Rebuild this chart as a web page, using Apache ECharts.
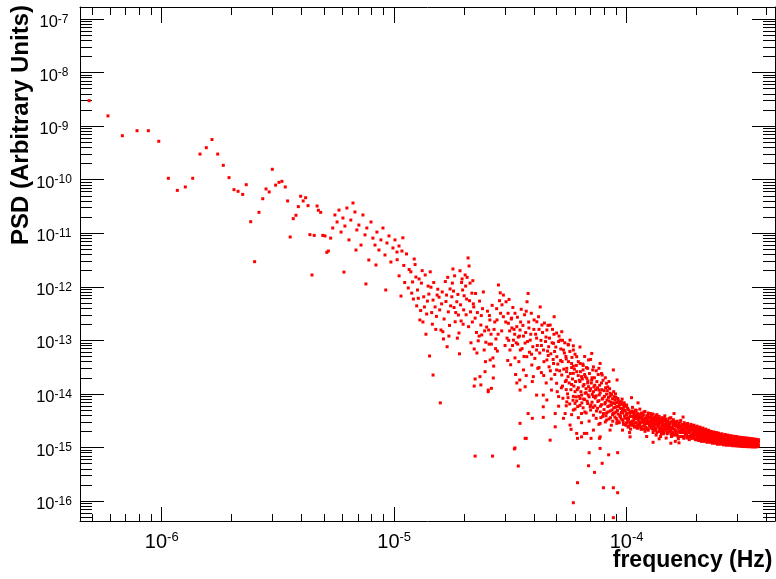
<!DOCTYPE html>
<html><head><meta charset="utf-8">
<script src="https://cdn.jsdelivr.net/npm/echarts@6/dist/echarts.min.js"></script>
<style>html,body{margin:0;padding:0;background:#fff}#c{width:776px;height:579px}</style>
</head><body><div id="c"></div><script>
// ---- axis ranges and tick labels ----
const X_MIN = 4.45e-7, X_MAX = 4.35e-4;
const Y_MIN = 4.24e-17, Y_MAX = 1.67e-7;
const xMajor = [1e-6, 1e-5, 1e-4];
const yMajor = [1e-16, 1e-15, 1e-14, 1e-13, 1e-12, 1e-11, 1e-10, 1e-9, 1e-8, 1e-7];
const xTitle = 'frequency (Hz)';
const yTitle = 'PSD (Arbitrary Units)';

// ---- data: [frequency (Hz), PSD] ----
const lowFreqPoints = [
[4.87e-7,2.98e-9],[5.87e-7,1.55e-9],[6.77e-7,6.6e-10],[7.83e-7,8.2e-10],[8.76e-7,8.2e-10],[9.71e-7,5.2e-10],
[1.068e-6,1.06e-10],[1.167e-6,6.3e-11],[1.263e-6,7.3e-11],[1.359e-6,1.06e-10],[1.461e-6,3.0e-10],[1.555e-6,3.95e-10],
[1.645e-6,5.6e-10],[1.741e-6,3.0e-10],[1.84e-6,1.85e-10],[1.948e-6,1.09e-10],[2.046e-6,6.5e-11],[2.13e-6,6.05e-11],
[2.23e-6,5.3e-11],[2.31e-6,8.05e-11],[2.414e-6,1.64e-11],[2.51e-6,2.94e-12],[2.62e-6,2.45e-11],[2.72e-6,4.4e-11],
[2.81e-6,6.7e-11],[2.90e-6,5.9e-11],[2.99e-6,1.56e-10],[3.09e-6,7.9e-11],[3.195e-6,8.9e-11],[3.29e-6,9.3e-11],
[3.40e-6,7.3e-11],[3.48e-6,4.0e-11],[3.57e-6,8.5e-12],[3.68e-6,1.87e-11],[3.78e-6,2.16e-11],[3.87e-6,3.13e-11],
[3.96e-6,4.9e-11],[4.06e-6,4.0e-11],[4.16e-6,4.6e-11],[4.26e-6,3.27e-11],[4.34e-6,9.4e-12],[4.43e-6,1.66e-12],
[4.53e-6,9.1e-12],[4.66e-6,3.22e-11],[4.72e-6,2.68e-11],[4.83e-6,2.45e-11],[4.93e-6,9.1e-12],[5.04e-6,8.9e-12],
[5.13e-6,4.4e-12],[5.21e-6,4.65e-12]
];
const decadeFiveToTenPoints = [
[5.33e-6,8.1e-12],[5.44e-6,1.25e-11],[5.56e-6,2.19e-11],[5.68e-6,1.62e-11],[5.79e-6,2.7e-11],[5.91e-6,1.05e-11],
[6.02e-6,1.92e-11],[6.14e-6,1.36e-11],[6.26e-6,2.95e-11],[6.39e-6,7.5e-12],[6.51e-6,1.76e-11],[6.65e-6,3.66e-11],
[6.78e-6,2.49e-11],[6.91e-6,1.15e-11],[7.05e-6,1.42e-11],[7.2e-6,6.0e-12],[7.34e-6,2.19e-11],[7.49e-6,9.3e-12],
[7.63e-6,1.25e-11],[7.78e-6,3.16e-12],[7.95e-6,1.62e-11],[8.1e-6,8.1e-12],[8.27e-6,6.0e-12],[8.43e-6,1.05e-11],
[8.6e-6,4.85e-12],[8.77e-6,7.5e-12],[8.95e-6,1.25e-11],[9.13e-6,3.92e-12],[9.31e-6,6.56e-12],[9.5e-6,8.9e-12],
[9.68e-6,2.9e-12],[9.88e-6,5.3e-12],[1.008e-5,7.5e-12],[1.028e-5,4.45e-12],[1.049e-5,5.77e-12],[6.08e-6,1.88e-12],
[7.56e-6,1.13e-12],[9.2e-6,8.7e-13],[6.85e-6,4.85e-12],[8.35e-6,2.55e-12]
];
const midFreqPoints = [
[1.08e-5,4.65e-12],[1.22e-5,3.3e-12],[1.24e-5,1.52e-12],[1.36e-5,1.66e-12],[1.20e-5,1.23e-12],[1.31e-5,1.17e-12],
[1.07e-5,6.7e-13],[1.40e-5,1.03e-12],[1.26e-5,8.7e-13],[1.41e-5,7.3e-13],[1.21e-5,5.9e-13],[1.47e-5,5.65e-13],
[1.53e-5,7.0e-13],[1.56e-5,6.4e-13],[1.50e-5,4.2e-13],[1.35e-5,4.2e-13],[1.29e-5,2.4e-13],[1.33e-5,2.2e-13],
[1.46e-5,2.0e-13],[1.59e-5,1.56e-13],[1.62e-5,1.45e-13],[1.63e-5,1.06e-13],[1.69e-5,7.6e-14],[1.42e-5,5.1e-14],
[1.47e-5,2.25e-14],[1.58e-5,6.8e-15],
[1.79e-5,2.15e-12],[1.92e-5,1.99e-12],[2.08e-5,3.45e-12],[2.10e-5,2.44e-12],[2.02e-5,1.66e-12],[1.96e-5,1.4e-12],
[1.78e-5,1.17e-12],[1.74e-5,9.1e-13],[1.68e-5,7.0e-13],[1.77e-5,6.5e-13],[1.86e-5,5.25e-13],[1.97e-5,8.7e-13],
[2.03e-5,1.03e-12],[2.12e-5,1.17e-12],[2.16e-5,7.6e-13],[1.89e-5,2.97e-13],[1.83e-5,2.22e-13],[1.90e-5,1.37e-13],
[1.71e-5,3.4e-13],[1.99e-5,3.7e-13],[2.13e-5,3.4e-13],[2.23e-5,2.6e-13],[2.36e-5,1.93e-13],[2.50e-5,1.77e-13],
[2.55e-5,1.56e-13],[2.38e-5,1.26e-13],[2.30e-5,9.8e-14],[2.21e-5,6.9e-14],[2.27e-5,5.8e-14],[2.44e-5,6.6e-14],
[2.62e-5,8.5e-14],[2.74e-5,1.06e-13],[2.66e-5,4.7e-14],[2.59e-5,4.3e-14],[2.46e-5,2.6e-14],[2.34e-5,2.1e-14],
[2.23e-5,1.9e-14],[2.36e-5,1.47e-14],[2.67e-5,1.98e-14],[2.54e-5,1.18e-14],
[1.1e-5,2.5e-12],[1.15e-5,9.5e-13],[1.18e-5,1.9e-12],[1.27e-5,6.1e-13],[1.38e-5,3.1e-13],[1.44e-5,9.8e-13],
[1.52e-5,2.8e-13],[1.6e-5,4.8e-13],[1.66e-5,1.25e-12],[1.73e-5,1.9e-13],[1.81e-5,4.1e-13],[1.94e-5,2.3e-13],
[2.05e-5,5.9e-13],[2.19e-5,4.8e-13],[2.26e-5,1.4e-13],[2.4e-5,3.9e-13],[2.48e-5,9.2e-14],[2.57e-5,2.9e-13],
[2.69e-5,1.6e-13],[2.78e-5,6.3e-14],
[1.03e-5,3.2e-12],[1.05e-5,1.6e-12],[1.09e-5,8.2e-12],[1.11e-5,1.2e-12],[1.13e-5,4.1e-12],[1.16e-5,2.1e-12],
[1.19e-5,7.6e-13],[1.23e-5,2.6e-12],[1.25e-5,4.4e-13],[1.28e-5,1.4e-12],[1.30e-5,3.6e-13],[1.32e-5,2.0e-12],
[1.34e-5,6.5e-13],[1.37e-5,1.3e-13],[1.39e-5,5.4e-13],[1.43e-5,1.9e-12],[1.45e-5,3.3e-13],[1.48e-5,1.2e-12],
[1.51e-5,1.6e-13],[1.54e-5,9.0e-13],[1.57e-5,3.7e-13],[1.61e-5,8.0e-13],[1.64e-5,2.5e-13],[1.67e-5,5.3e-13],
[1.70e-5,1.5e-12],[1.72e-5,1.2e-13],[1.75e-5,4.4e-13],[1.80e-5,8.3e-13],[1.82e-5,1.6e-12],[1.84e-5,3.3e-13],
[1.87e-5,1.1e-13],[1.88e-5,7.2e-13],[1.91e-5,5.6e-14],[1.93e-5,4.6e-13],[1.95e-5,1.2e-12],[1.98e-5,2.0e-13],
[2.00e-5,6.8e-13],[2.04e-5,3.0e-13],[2.06e-5,1.5e-12],[2.09e-5,1.8e-13],[2.11e-5,5.5e-13],[2.14e-5,9.0e-14],
[2.17e-5,2.2e-13],[2.18e-5,1.3e-12],[2.20e-5,4.2e-13],[2.24e-5,7.5e-13],[2.28e-5,3.3e-13],[2.32e-5,1.2e-13],
[2.33e-5,5.4e-13],[2.37e-5,2.9e-13],[2.42e-5,8.0e-13],[2.45e-5,1.5e-13],[2.47e-5,4.0e-14],[2.52e-5,3.5e-13],
[2.56e-5,8.5e-14],[2.58e-5,2.4e-13],[2.61e-5,1.3e-13],[2.64e-5,4.5e-13],[2.68e-5,3.3e-14],[2.71e-5,2.2e-13],
[2.73e-5,7.0e-14],[2.76e-5,3.9e-13],[2.80e-5,1.3e-13],[2.84e-5,5.5e-13]
];
const upperMidPoints = [
[2.81e-5,1.08e-12],[2.86e-5,7.7e-13],[2.95e-5,7.0e-13],[3.03e-5,5.25e-13],[2.91e-5,4.6e-13],[3.09e-5,3.2e-13],
[2.87e-5,3.2e-13],[3.31e-5,3.2e-13],[2.95e-5,2.76e-13],[2.77e-5,2.4e-13],[3.10e-5,2.08e-13],[3.21e-5,1.7e-13],
[3.37e-5,1.8e-13],[3.48e-5,1.56e-13],[3.42e-5,1.15e-13],[3.26e-5,1.01e-13],[3.11e-5,1.0e-13],[3.15e-5,6.6e-14],
[3.31e-5,4.7e-14],[3.49e-5,6.6e-14],[3.66e-5,8.9e-14],[3.85e-5,1.01e-13],[3.95e-5,7.6e-14],[4.10e-5,6.6e-14],
[3.72e-5,4.95e-14],[3.91e-5,3.46e-14],[3.60e-5,2.8e-14],[3.47e-5,1.82e-14],[3.66e-5,1.36e-14],[3.97e-5,2.1e-14],
[4.10e-5,9.5e-15],[4.38e-5,9.5e-15],[3.77e-5,7.5e-13],[3.73e-5,5.25e-13],[4.25e-5,4.2e-13],[4.18e-5,2.76e-13],
[4.11e-5,2.22e-13],[4.32e-5,1.93e-13],[4.54e-5,1.56e-13],[4.69e-5,1.93e-13],[4.88e-5,2.76e-13],[5.0e-5,1.37e-13],
[5.26e-5,1.45e-13],[5.18e-5,1.01e-13],[4.85e-5,8.8e-14],[4.62e-5,7.6e-14],[4.39e-5,6.6e-14],[4.54e-5,4.3e-14],
[4.85e-5,3.7e-14],[5.01e-5,4.95e-14],[5.35e-5,6.6e-14],[5.62e-5,8.2e-14],[5.71e-5,1.01e-13],[5.9e-5,6.6e-14],
[6.1e-5,4.95e-14],[5.8e-5,3.7e-14],[5.53e-5,3.0e-14],[5.26e-5,2.25e-14],[5.0e-5,1.58e-14],[4.75e-5,1.18e-14],
[4.54e-5,7.7e-15],[5.9e-5,2.42e-14],[6.31e-5,3.7e-14],[6.5e-5,2.8e-14],[6.4e-5,2.1e-14],[6.74e-5,1.96e-14],
[7.08e-5,1.82e-14],[6.86e-5,1.36e-14],[6.63e-5,1.03e-14],[6.31e-5,8.2e-15],[6.0e-5,6.65e-15],[5.9e-5,5.0e-15],
[6.4e-5,4.3e-15],[6.97e-5,5.75e-15],[7.2e-5,8.9e-15],[7.6e-5,1.18e-14],[7.85e-5,2.25e-14],[7.69e-5,3.7e-14],
[8.2e-5,1.58e-14],[8.49e-5,1.03e-14],[8.92e-5,7.7e-15],[9.07e-5,5.75e-15],[8.77e-5,4.3e-15],[8.2e-5,3.25e-15],
[7.69e-5,2.82e-15],[7.2e-5,2.11e-15],[6.74e-5,1.83e-15],[6.4e-5,1.58e-15],[7.7e-5,1.58e-15],[8.49e-5,2.11e-15],
[9.38e-5,3.74e-15],[1.0e-4,4.3e-15],[1.07e-4,3.74e-15],[1.143e-4,3.5e-15],[1.23e-4,3.0e-15],[9.1e-5,1.82e-14],
[8.77e-5,2.8e-14],[7.08e-5,5.7e-14],[6.86e-5,4.3e-14],[5.1e-5,8.9e-15],[4.38e-5,5.75e-15],[4.93e-5,2.43e-15],
[4.69e-5,1.37e-15],[3.77e-5,4.3e-15],[3.48e-5,2.82e-15],[3.66e-5,1.48e-15],[3.31e-5,9.8e-16],[4.93e-5,4.3e-15],
[5.53e-5,7.1e-15],[5.35e-5,3.5e-15],[5.71e-5,2.62e-15],[6.1e-5,1.83e-15],[7.69e-5,9.6e-16],[1.035e-4,1.58e-15],
[9.6e-5,2.11e-15],[9.07e-5,2.82e-15],
[2.9e-5,1.5e-13],[3.0e-5,8e-14],[3.2e-5,2.6e-13],[3.3e-5,1.3e-13],[3.4e-5,8.5e-14],[3.5e-5,2.2e-13],
[3.6e-5,1.2e-13],[3.7e-5,3.5e-13],[3.8e-5,1.7e-13],[3.9e-5,5.5e-14],[4.0e-5,2.4e-13],[4.1e-5,1.1e-13],
[4.2e-5,3.1e-14],[4.3e-5,8e-14],[4.4e-5,2.2e-14],[4.5e-5,1.15e-13],[4.6e-5,5.2e-14],[4.7e-5,2.7e-14],
[4.8e-5,1.6e-13],[4.9e-5,6.2e-14],[5.0e-5,2.8e-14],[5.1e-5,9.5e-14],[5.2e-5,4.2e-14],[5.3e-5,1.4e-14],
[5.4e-5,5.8e-14],[5.5e-5,1.8e-14],
[5.5e-5,4.5e-14],[5.7e-5,6.2e-14],[5.8e-5,3.1e-14],[6.0e-5,5.5e-14],[6.2e-5,4.0e-14],[6.3e-5,7.5e-14],
[6.5e-5,3.4e-14],[6.6e-5,5.0e-14],[6.8e-5,3.0e-14],[7.0e-5,4.4e-14],[7.2e-5,3.2e-14],[7.4e-5,2.7e-14],
[7.6e-5,3.0e-14],[7.8e-5,2.4e-14],[8.1e-5,2.0e-14],[8.4e-5,1.7e-14],[5.3e-5,1.0e-13],[5.6e-5,8.4e-14],[5.9e-5,7.9e-14],
[3.02e-5,2.2e-13],[3.06e-5,1.1e-13],[3.08e-5,4.2e-14],[3.12e-5,5.8e-13],[3.14e-5,1.5e-13],[3.17e-5,3.5e-14],
[3.19e-5,2.5e-13],[3.23e-5,8.0e-14],[3.24e-5,4.1e-13],[3.28e-5,1.6e-13],[3.33e-5,2.3e-14],[3.35e-5,9.0e-14],
[3.39e-5,2.7e-13],[3.44e-5,4.0e-14],[3.46e-5,1.2e-13],[3.52e-5,3.8e-13],[3.55e-5,7.0e-14],[3.58e-5,1.9e-13],
[3.62e-5,5.0e-14],[3.64e-5,3.0e-13],[3.68e-5,1.4e-13],[3.70e-5,2.2e-14],[3.75e-5,9.5e-14],[3.79e-5,2.2e-13],
[3.82e-5,6.0e-14],[3.87e-5,1.3e-13],[3.89e-5,3.2e-13],[3.93e-5,1.7e-14],[3.99e-5,1.6e-13],[4.03e-5,4.6e-14],
[4.06e-5,1.3e-13],[4.13e-5,8.0e-14],[4.15e-5,3.0e-14],[4.20e-5,1.6e-13],[4.23e-5,5.8e-14],[4.28e-5,1.0e-13],
[4.30e-5,2.5e-14],[4.35e-5,1.4e-13],[4.41e-5,4.0e-14],[4.43e-5,2.1e-13],[4.48e-5,9.5e-14],[4.51e-5,1.6e-14],
[4.57e-5,6.3e-14],[4.59e-5,1.9e-13],[4.64e-5,3.2e-14],[4.66e-5,1.1e-13],[4.72e-5,5.6e-14],[4.74e-5,1.9e-14],
[4.78e-5,9.0e-14],[4.83e-5,4.4e-14],[4.87e-5,1.3e-13],[4.91e-5,2.3e-14],[4.96e-5,7.5e-14],[5.03e-5,1.1e-14],
[5.06e-5,3.6e-14],[5.12e-5,1.2e-13],[5.15e-5,2.7e-14],[5.21e-5,6.9e-14],[5.24e-5,1.3e-14],[5.28e-5,4.0e-14],
[5.32e-5,8.3e-15],[5.37e-5,2.9e-14],[5.42e-5,9.0e-14],[5.45e-5,1.7e-14],[5.48e-5,5.0e-14]
];
const clusterExtraPoints = [
[5.52e-5,2.6e-14],[5.57e-5,1.0e-14],[5.62e-5,4.0e-14],[5.66e-5,1.6e-14],[5.69e-5,6.5e-15],[5.73e-5,2.4e-14],
[5.76e-5,1.2e-14],[5.82e-5,4.8e-14],[5.85e-5,1.9e-14],[5.88e-5,7.6e-15],[5.93e-5,1.4e-14],[5.96e-5,2.9e-14],
[6.03e-5,1.7e-14],[6.06e-5,8.8e-15],[6.08e-5,3.4e-14],[6.13e-5,1.2e-14],[6.16e-5,5.8e-15],[6.19e-5,2.2e-14],
[6.23e-5,9.0e-15],[6.26e-5,1.8e-14],[6.33e-5,2.6e-14],[6.36e-5,1.1e-14],[6.42e-5,6.8e-15],[6.45e-5,1.9e-14],
[6.48e-5,3.6e-14],[6.53e-5,8.0e-15],[6.56e-5,1.5e-14],[6.61e-5,4.6e-15],[6.64e-5,2.1e-14],[6.69e-5,1.25e-14],
[6.72e-5,3.1e-14],[6.77e-5,7.3e-15],[6.81e-5,1.75e-14],[6.84e-5,9.5e-15],[6.92e-5,2.4e-14],[6.95e-5,1.15e-14],
[7.02e-5,6.2e-15],[7.05e-5,1.6e-14],[7.12e-5,9.8e-15],[7.15e-5,2.8e-14],[7.18e-5,5.6e-15],[7.23e-5,1.35e-14],
[7.27e-5,2.0e-14],[7.33e-5,8.4e-15],[7.36e-5,1.2e-14],[7.42e-5,4.8e-15],[7.45e-5,1.7e-14],[7.52e-5,7.2e-15],
[7.55e-5,2.3e-14],[7.63e-5,9.6e-15],[7.66e-5,1.45e-14],[7.72e-5,5.9e-15],[7.75e-5,3.6e-15],[7.82e-5,1.2e-14],
[7.86e-5,8.0e-15],[7.92e-5,1.8e-14],[7.95e-5,4.3e-15],[8.03e-5,9.0e-15],[8.06e-5,6.5e-15],[8.12e-5,1.3e-14],
[8.15e-5,3.9e-15],[8.23e-5,7.7e-15],[8.26e-5,1.15e-14],[8.32e-5,4.6e-15],[8.36e-5,8.6e-15],[8.42e-5,6.0e-15],
[8.45e-5,1.25e-14],[8.52e-5,3.6e-15],[8.55e-5,7.0e-15],[8.62e-5,9.8e-15],[8.66e-5,5.0e-15],[8.72e-5,3.1e-15],
[8.76e-5,6.8e-15],[8.83e-5,8.9e-15],[8.86e-5,4.4e-15],[8.93e-5,5.6e-15],[8.96e-5,1.0e-14],[9.03e-5,3.5e-15],
[9.06e-5,6.9e-15],[9.13e-5,4.9e-15],[9.17e-5,8.2e-15],[9.23e-5,3.0e-15],[9.27e-5,5.8e-15],[9.33e-5,7.1e-15],
[9.36e-5,4.0e-15],[9.43e-5,6.4e-15],[9.47e-5,3.4e-15],[9.53e-5,5.3e-15],[9.57e-5,8.0e-15],[9.63e-5,4.4e-15],
[9.67e-5,3.0e-15],[9.73e-5,5.6e-15],[9.77e-5,6.8e-15],[9.83e-5,3.7e-15],[9.87e-5,4.9e-15],[9.93e-5,2.6e-15],
[9.97e-5,6.0e-15]
];
const lowOutlierPoints = [
[2.23e-5,6.9e-16],[2.65e-5,6.9e-16],[3.42e-5,4.5e-16],[3.29e-5,9.4e-16],[6.15e-5,2.2e-16],[5.9e-5,9.3e-17],
[7.95e-5,1.77e-16],[8.77e-5,1.77e-16],[9.15e-5,1.43e-16],[8.77e-5,4.9e-17],[7.28e-5,3.43e-16],[7.85e-5,5.06e-16],
[6.86e-5,4.56e-16],[6.9e-5,7.97e-16],[8.37e-5,7.3e-16],[9.15e-5,8.0e-16],[3.7e-5,1.48e-15],[3.93e-5,3.5e-15],
[4.38e-5,3.65e-15],[5.77e-5,2.18e-15],[6.15e-5,1.48e-15],[7.03e-5,1.48e-15],[7.64e-5,1.48e-15],[6.58e-5,1.83e-15],
[5.44e-5,4.3e-15],[5.1e-5,5.9e-15],[3.48e-5,1.18e-14],[2.54e-5,1.1e-14],[2.62e-5,1.27e-14],[2.21e-5,1.4e-14],
[3.37e-5,1.6e-14],
[1.05e-4,8.5e-15],[1.12e-4,6.8e-15],[1.3e-4,1.25e-15],[1.38e-4,1.45e-15],[1.55e-4,1.2e-15],[1.6e-4,4.3e-15],
[1.75e-4,3.7e-15],[1.22e-4,1.6e-15],[1.68e-4,1.22e-15],[1.03e-4,1.9e-15]
];
const clusterFreq = [5.5e-5,5.6e-5,5.8e-5,5.9e-5,6.0e-5,6.1e-5,6.2e-5,6.3e-5,6.4e-5,6.5e-5,6.6e-5,6.7e-5,6.8e-5,6.9e-5,
7.0e-5,7.1e-5,7.2e-5,7.3e-5,7.4e-5,7.5e-5,7.6e-5,7.7e-5,7.8e-5,7.9e-5,8.0e-5,8.1e-5,8.2e-5,8.3e-5,8.4e-5,8.5e-5,
8.6e-5,8.7e-5,8.8e-5,8.9e-5,9.0e-5,9.1e-5,9.2e-5,9.3e-5,9.4e-5,9.5e-5,9.6e-5,9.7e-5,9.8e-5,9.9e-5];
const clusterPsdA = [1.2e-14,2.1e-14,1.5e-14,9e-15,1.1e-14,2.6e-14,1.3e-14,1.7e-14,9.5e-15,1.4e-14,2.3e-14,1.05e-14,
1.6e-14,8.8e-15,1.25e-14,2.0e-14,1.1e-14,1.45e-14,9.2e-15,1.3e-14,7.5e-15,1.05e-14,1.6e-14,8.3e-15,1.15e-14,6.9e-15,
9.9e-15,1.35e-14,7.4e-15,9.1e-15,6.2e-15,8.1e-15,1.1e-14,6.6e-15,8.6e-15,5.8e-15,7.6e-15,6.4e-15,5.4e-15,7.1e-15,
5.1e-15,6.3e-15,4.8e-15,5.9e-15];
const clusterPsdB = [6e-15,8.5e-15,4.1e-15,3.3e-14,5.2e-15,7.4e-15,3.6e-15,6.1e-15,2.9e-15,5.5e-15,7.9e-15,4.4e-15,
6.6e-15,3.1e-15,5e-15,7e-15,4e-15,6e-15,3.5e-15,5.4e-15,2.7e-15,4.6e-15,6.3e-15,3.8e-15,5.1e-15,3.0e-15,4.4e-15,
5.8e-15,3.4e-15,4.8e-15,2.6e-15,4.1e-15,5.5e-15,3.7e-15,4.6e-15,3.2e-15,4.2e-15,2.9e-15,3.8e-15,4.5e-15,3.3e-15,
2.7e-15,3.9e-15,3.5e-15];
const tailFreq = [1.00e-4,1.02e-4,1.04e-4,1.06e-4,1.08e-4,1.10e-4,1.12e-4,1.14e-4,1.16e-4,1.18e-4,1.20e-4,1.22e-4,
1.24e-4,1.26e-4,1.28e-4,1.30e-4,1.32e-4,1.34e-4,1.36e-4,1.38e-4,1.40e-4,1.42e-4,1.44e-4,1.46e-4,1.48e-4,1.50e-4,
1.53e-4,1.56e-4,1.59e-4,1.62e-4,1.65e-4,1.68e-4,1.71e-4,1.74e-4,1.77e-4,1.80e-4,1.83e-4,1.86e-4,1.89e-4,1.92e-4,
1.95e-4,1.98e-4,2.01e-4,2.04e-4,2.07e-4,2.10e-4,2.13e-4,2.16e-4,2.19e-4,2.22e-4,2.25e-4,2.28e-4,2.31e-4,2.34e-4,
2.37e-4,2.40e-4,2.43e-4,2.46e-4,2.49e-4,2.53e-4,2.57e-4,2.61e-4,2.65e-4,2.69e-4,2.73e-4,2.77e-4,2.81e-4,2.85e-4,
2.89e-4,2.93e-4,2.97e-4,3.01e-4,3.05e-4,3.09e-4,3.13e-4,3.17e-4,3.21e-4,3.25e-4,3.29e-4,3.33e-4,3.37e-4,3.41e-4,
3.45e-4,3.49e-4,3.53e-4,3.57e-4,3.61e-4,3.65e-4,3.69e-4];
const tailPsdA = [6.2e-15,5.0e-15,4.6e-15,5.6e-15,4.3e-15,4.9e-15,4.0e-15,5.2e-15,3.7e-15,4.1e-15,3.5e-15,3.9e-15,
4.4e-15,3.6e-15,4.0e-15,3.3e-15,3.7e-15,3.1e-15,3.5e-15,3.0e-15,3.3e-15,2.8e-15,3.2e-15,3.9e-15,2.9e-15,3.1e-15,
2.7e-15,3.0e-15,2.6e-15,2.9e-15,2.5e-15,2.8e-15,2.4e-15,2.7e-15,2.3e-15,2.6e-15,2.2e-15,2.5e-15,2.1e-15,2.4e-15,
2.0e-15,2.3e-15,2.0e-15,2.2e-15,1.9e-15,2.1e-15,1.8e-15,2.0e-15,1.75e-15,1.95e-15,1.7e-15,1.9e-15,1.65e-15,1.85e-15,
1.6e-15,1.8e-15,1.6e-15,1.75e-15,1.55e-15,1.7e-15,1.5e-15,1.65e-15,1.5e-15,1.62e-15,1.45e-15,1.6e-15,1.42e-15,1.56e-15,
1.4e-15,1.53e-15,1.38e-15,1.5e-15,1.36e-15,1.48e-15,1.34e-15,1.46e-15,1.33e-15,1.44e-15,1.31e-15,1.42e-15,1.3e-15,1.4e-15,
1.29e-15,1.38e-15,1.28e-15,1.36e-15,1.27e-15,1.34e-15,1.26e-15];
const tailPsdB = [4.1e-15,3.4e-15,3.8e-15,3.1e-15,3.6e-15,2.9e-15,3.3e-15,3.0e-15,4.4e-15,3.2e-15,4.7e-15,2.8e-15,
3.1e-15,2.6e-15,2.4e-15,4.2e-15,2.7e-15,3.9e-15,2.5e-15,3.8e-15,2.3e-15,3.6e-15,2.5e-15,2.7e-15,3.4e-15,2.4e-15,
3.5e-15,2.2e-15,3.3e-15,2.1e-15,3.1e-15,2.0e-15,3.2e-15,1.9e-15,2.9e-15,2.0e-15,2.8e-15,1.9e-15,2.7e-15,1.8e-15,
2.6e-15,1.7e-15,2.5e-15,1.7e-15,2.4e-15,1.6e-15,2.3e-15,1.6e-15,2.2e-15,1.55e-15,2.1e-15,1.5e-15,2.0e-15,1.45e-15,
1.95e-15,1.45e-15,1.9e-15,1.4e-15,1.85e-15,1.4e-15,1.8e-15,1.35e-15,1.75e-15,1.33e-15,1.7e-15,1.3e-15,1.66e-15,1.28e-15,
1.62e-15,1.26e-15,1.6e-15,1.25e-15,1.56e-15,1.23e-15,1.54e-15,1.22e-15,1.52e-15,1.2e-15,1.5e-15,1.19e-15,1.48e-15,1.18e-15,
1.46e-15,1.17e-15,1.44e-15,1.16e-15,1.42e-15,1.15e-15,1.4e-15];
const tailPsdC = [2.9e-15,2.5e-15,2.2e-15,2.7e-15,2.4e-15,3.9e-15,2.3e-15,2.6e-15,2.2e-15,2.5e-15,2.0e-15,3.3e-15,
2.1e-15,3.0e-15,3.4e-15,1.9e-15,2.2e-15,1.7e-15,2.9e-15,2.0e-15,1.6e-15,2.1e-15,1.8e-15,2.2e-15,1.5e-15,1.9e-15,
2.0e-15,1.6e-15,1.9e-15,1.3e-15,1.7e-15,2.3e-15,1.6e-15,2.2e-15,1.5e-15,1.7e-15,1.5e-15,1.4e-15,1.7e-15,1.5e-15,
1.6e-15,1.4e-15,1.5e-15,1.35e-15,1.5e-15,1.3e-15,1.45e-15,1.3e-15,1.4e-15,1.25e-15,1.4e-15,1.25e-15,1.35e-15,1.2e-15,
1.3e-15,1.2e-15,1.3e-15,1.15e-15,1.3e-15,1.15e-15,1.25e-15,1.12e-15,1.22e-15,1.1e-15,1.2e-15,1.1e-15,1.18e-15,1.08e-15,
1.17e-15,1.07e-15,1.16e-15,1.06e-15,1.14e-15,1.05e-15,1.13e-15,1.04e-15,1.12e-15,1.04e-15,1.11e-15,1.03e-15,1.1e-15,1.03e-15,
1.09e-15,1.02e-15,1.08e-15,1.02e-15,1.08e-15,1.03e-15,1.1e-15];
const tail2Freq = [1.01e-4,1.03e-4,1.05e-4,1.07e-4,1.09e-4,1.11e-4,1.13e-4,1.15e-4,1.17e-4,1.19e-4,1.21e-4,1.23e-4,
1.25e-4,1.27e-4,1.29e-4,1.31e-4,1.33e-4,1.35e-4,1.37e-4,1.39e-4,1.41e-4,1.43e-4,1.45e-4,1.47e-4,1.49e-4,
1.52e-4,1.55e-4,1.58e-4,1.61e-4,1.64e-4,1.67e-4,1.70e-4,1.73e-4,1.76e-4,1.79e-4,1.82e-4,1.85e-4,1.88e-4,1.91e-4,
1.94e-4,1.97e-4,2.00e-4,2.03e-4,2.06e-4,2.09e-4,2.12e-4,2.15e-4,2.18e-4,2.21e-4,2.24e-4,2.27e-4,2.30e-4,2.33e-4,
2.36e-4,2.39e-4,2.42e-4,2.45e-4,2.48e-4,
2.51e-4,2.55e-4,2.59e-4,2.63e-4,2.67e-4,2.71e-4,2.75e-4,2.79e-4,2.83e-4,2.87e-4,2.91e-4,2.95e-4,2.99e-4,3.03e-4,
3.07e-4,3.11e-4,3.15e-4,3.19e-4,3.23e-4,3.27e-4,3.31e-4,3.35e-4,3.39e-4,3.43e-4,3.47e-4,3.51e-4,3.55e-4,3.59e-4,
3.63e-4,3.67e-4];
const tail2PsdD = [5.4e-15,3.0e-15,4.5e-15,2.6e-15,5.0e-15,3.5e-15,2.8e-15,4.2e-15,3.0e-15,4.6e-15,2.4e-15,3.6e-15,
2.9e-15,4.3e-15,2.7e-15,3.5e-15,2.3e-15,4.1e-15,2.6e-15,3.4e-15,2.9e-15,2.0e-15,3.5e-15,2.4e-15,3.0e-15,
2.2e-15,3.6e-15,2.4e-15,3.0e-15,1.8e-15,2.6e-15,3.0e-15,2.1e-15,2.6e-15,1.8e-15,2.5e-15,2.2e-15,1.6e-15,2.3e-15,
2.0e-15,2.4e-15,1.7e-15,2.3e-15,1.9e-15,2.2e-15,1.55e-15,2.1e-15,1.8e-15,2.05e-15,1.5e-15,1.95e-15,1.75e-15,1.55e-15,
1.9e-15,1.65e-15,1.5e-15,1.85e-15,1.6e-15,
1.45e-15,1.75e-15,1.55e-15,1.35e-15,1.7e-15,1.5e-15,1.3e-15,1.62e-15,1.47e-15,1.25e-15,1.57e-15,1.44e-15,1.22e-15,1.54e-15,
1.41e-15,1.2e-15,1.5e-15,1.38e-15,1.19e-15,1.47e-15,1.36e-15,1.17e-15,1.45e-15,1.34e-15,1.15e-15,1.42e-15,1.32e-15,1.14e-15,
1.4e-15,1.3e-15];
const tail2PsdE = [3.2e-15,4.4e-15,2.6e-15,3.9e-15,2.9e-15,2.3e-15,4.0e-15,2.4e-15,3.4e-15,2.2e-15,3.1e-15,2.2e-15,
3.7e-15,2.3e-15,3.1e-15,2.1e-15,3.2e-15,1.9e-15,3.1e-15,2.2e-15,1.8e-15,2.8e-15,1.9e-15,3.2e-15,2.2e-15,
2.9e-15,1.8e-15,2.8e-15,1.7e-15,2.5e-15,1.45e-15,2.0e-15,2.6e-15,1.5e-15,2.3e-15,1.6e-15,2.0e-15,2.4e-15,1.5e-15,
1.8e-15,1.45e-15,2.1e-15,1.45e-15,2.0e-15,1.4e-15,1.9e-15,1.4e-15,1.6e-15,1.35e-15,1.8e-15,1.3e-15,1.5e-15,1.75e-15,
1.3e-15,1.45e-15,1.7e-15,1.25e-15,1.4e-15,
1.62e-15,1.2e-15,1.38e-15,1.6e-15,1.18e-15,1.34e-15,1.55e-15,1.15e-15,1.3e-15,1.5e-15,1.13e-15,1.28e-15,1.47e-15,1.11e-15,
1.26e-15,1.44e-15,1.1e-15,1.24e-15,1.42e-15,1.08e-15,1.22e-15,1.4e-15,1.07e-15,1.2e-15,1.38e-15,1.06e-15,1.19e-15,1.36e-15,
1.05e-15,1.18e-15];
const tail3Freq = [1.015e-4,1.035e-4,1.055e-4,1.075e-4,1.095e-4,1.115e-4,1.135e-4,1.155e-4,1.175e-4,1.195e-4,1.215e-4,
1.235e-4,1.255e-4,1.275e-4,1.295e-4,1.315e-4,1.335e-4,1.355e-4,1.375e-4,1.395e-4,1.415e-4,1.435e-4,1.455e-4,1.475e-4,
1.495e-4,
1.515e-4,1.545e-4,1.575e-4,1.605e-4,1.635e-4,1.665e-4,1.695e-4,1.725e-4,1.755e-4,1.785e-4,1.815e-4,1.845e-4,1.875e-4,
1.905e-4,1.935e-4,1.965e-4,1.995e-4,2.025e-4,2.055e-4,2.085e-4,2.115e-4,2.145e-4,2.175e-4,2.205e-4,2.235e-4,2.265e-4,
2.295e-4,2.325e-4,2.355e-4,2.385e-4,2.415e-4,2.445e-4,2.475e-4,
2.52e-4,2.56e-4,2.60e-4,2.64e-4,2.68e-4,2.72e-4,2.76e-4,2.80e-4,2.84e-4,2.88e-4,2.92e-4,2.96e-4,3.00e-4,3.04e-4,
3.08e-4,3.12e-4,3.16e-4,3.20e-4,3.24e-4,3.28e-4,3.32e-4,3.36e-4,3.40e-4,3.44e-4,3.48e-4,3.52e-4,3.56e-4,3.60e-4,
3.64e-4,3.68e-4];
const tail3PsdF = [3.6e-15,2.7e-15,4.8e-15,3.3e-15,2.5e-15,4.3e-15,3.0e-15,2.9e-15,3.9e-15,2.7e-15,3.3e-15,4.0e-15,
2.5e-15,3.2e-15,2.9e-15,2.5e-15,3.6e-15,2.8e-15,2.3e-15,3.2e-15,2.5e-15,3.1e-15,2.7e-15,2.1e-15,2.6e-15,
2.5e-15,2.0e-15,3.1e-15,2.2e-15,2.8e-15,2.3e-15,1.9e-15,2.5e-15,2.1e-15,2.7e-15,1.8e-15,2.3e-15,2.0e-15,2.6e-15,
1.7e-15,2.2e-15,1.9e-15,1.6e-15,2.1e-15,1.8e-15,2.2e-15,1.6e-15,1.9e-15,1.7e-15,1.5e-15,1.85e-15,1.6e-15,1.4e-15,
1.75e-15,1.5e-15,1.65e-15,1.4e-15,1.55e-15,
1.35e-15,1.55e-15,1.25e-15,1.45e-15,1.62e-15,1.28e-15,1.4e-15,1.55e-15,1.2e-15,1.37e-15,1.5e-15,1.18e-15,1.33e-15,
1.48e-15,1.16e-15,1.3e-15,1.45e-15,1.14e-15,1.28e-15,1.43e-15,1.12e-15,1.26e-15,1.41e-15,1.1e-15,1.25e-15,1.39e-15,
1.09e-15,1.24e-15,1.37e-15,1.08e-15];
const tail3PsdG = [2.4e-15,3.9e-15,2.8e-15,4.6e-15,3.5e-15,2.6e-15,3.7e-15,2.2e-15,3.2e-15,2.9e-15,2.3e-15,3.5e-15,
2.6e-15,3.8e-15,2.2e-15,3.0e-15,2.1e-15,3.3e-15,2.7e-15,2.0e-15,2.9e-15,2.2e-15,2.5e-15,3.3e-15,1.8e-15,
3.0e-15,2.4e-15,1.7e-15,2.6e-15,2.0e-15,1.6e-15,2.5e-15,2.2e-15,1.6e-15,2.0e-15,2.4e-15,1.6e-15,2.2e-15,1.5e-15,
2.1e-15,1.8e-15,1.4e-15,2.0e-15,1.7e-15,1.5e-15,1.9e-15,1.45e-15,1.7e-15,1.35e-15,1.8e-15,1.45e-15,1.3e-15,1.65e-15,
1.3e-15,1.6e-15,1.25e-15,1.55e-15,1.3e-15,
1.5e-15,1.2e-15,1.42e-15,1.16e-15,1.35e-15,1.5e-15,1.14e-15,1.3e-15,1.46e-15,1.12e-15,1.27e-15,1.43e-15,1.1e-15,
1.25e-15,1.4e-15,1.08e-15,1.23e-15,1.37e-15,1.07e-15,1.21e-15,1.35e-15,1.06e-15,1.2e-15,1.33e-15,1.05e-15,1.18e-15,
1.31e-15,1.04e-15,1.17e-15,1.3e-15];

// ---- build series data ----
function zipPairs(freqs, psd) { return freqs.map((f, i) => [f, psd[i]]); }
const allPoints = [].concat(
  lowFreqPoints, decadeFiveToTenPoints, midFreqPoints, upperMidPoints, clusterExtraPoints, lowOutlierPoints,
  zipPairs(clusterFreq, clusterPsdA), zipPairs(clusterFreq, clusterPsdB),
  zipPairs(tailFreq, tailPsdA), zipPairs(tailFreq, tailPsdB), zipPairs(tailFreq, tailPsdC),
  zipPairs(tail2Freq, tail2PsdD), zipPairs(tail2Freq, tail2PsdE),
  zipPairs(tail3Freq, tail3PsdF), zipPairs(tail3Freq, tail3PsdG)
);

// ---- minor tick positions (2..9 per decade) ----
const MANTISSAS = [2, 3, 4, 5, 6, 7, 8, 9];
function minorValues(decades, lo, hi) {
  const out = [];
  decades.forEach(d => MANTISSAS.forEach(m => { const v = m * d; if (v >= lo && v <= hi) out.push(v); }));
  return out;
}
const xMinor = minorValues([1e-7, 1e-6, 1e-5, 1e-4], X_MIN, X_MAX);
const yMinor = minorValues([1e-17, 1e-16, 1e-15, 1e-14, 1e-13, 1e-12, 1e-11, 1e-10, 1e-9, 1e-8, 1e-7], Y_MIN, Y_MAX);

const FONT = '"Liberation Sans", Arial, Helvetica, sans-serif';
const BLACK = '#000';
function expLabel(v) { return '{b|10}{s|' + Math.round(Math.log10(v)) + '}'; }

function makeX(position, ticks, len, main) {
  return {
    type: 'log', logBase: 10, min: X_MIN, max: X_MAX, position: position,
    axisLine: { show: main, onZero: false, lineStyle: { color: BLACK, width: 1 } },
    axisTick: { show: true, inside: true, length: len, customValues: ticks, lineStyle: { color: BLACK, width: 1 } },
    axisLabel: (main && position === 'bottom') ? {
      show: true, customValues: xMajor, margin: 10, formatter: expLabel, color: BLACK,
      rich: {
        b: { fontSize: 20, fontFamily: FONT, color: BLACK, lineHeight: 22 },
        s: { fontSize: 13, fontFamily: FONT, color: BLACK, lineHeight: 8, verticalAlign: 'top' }
      }
    } : { show: false },
    splitLine: { show: false }, minorTick: { show: false }, minorSplitLine: { show: false }
  };
}
function makeY(position, ticks, len, main) {
  return {
    type: 'log', logBase: 10, min: Y_MIN, max: Y_MAX, position: position,
    axisLine: { show: main, onZero: false, lineStyle: { color: BLACK, width: 1 } },
    axisTick: { show: true, inside: true, length: len, customValues: ticks, lineStyle: { color: BLACK, width: 1 } },
    axisLabel: (main && position === 'left') ? {
      show: true, customValues: yMajor, margin: 26, align: 'center', padding: [7, 0, 0, 0],
      formatter: expLabel, color: BLACK,
      rich: {
        b: { fontSize: 16.5, fontFamily: FONT, color: BLACK, lineHeight: 18 },
        s: { fontSize: 12, fontFamily: FONT, color: BLACK, lineHeight: 6, verticalAlign: 'top' }
      }
    } : { show: false },
    splitLine: { show: false }, minorTick: { show: false }, minorSplitLine: { show: false }
  };
}

const chart = echarts.init(document.getElementById('c'), null, { renderer: 'canvas' });
chart.setOption({
  animation: false,
  backgroundColor: '#fff',
  grid: { left: 80, right: 1, top: 7, bottom: 58, containLabel: false },
  xAxis: [
    makeX('bottom', xMajor, 14, true),
    makeX('bottom', xMinor, 7, false),
    makeX('top', xMajor, 16, true),
    makeX('top', xMinor, 8, false)
  ],
  yAxis: [
    makeY('left', yMajor, 24, true),
    makeY('left', yMinor, 12, false),
    makeY('right', yMajor, 23, true),
    makeY('right', yMinor, 12, false)
  ],
  series: [{
    type: 'scatter', xAxisIndex: 0, yAxisIndex: 0,
    symbol: 'rect', symbolSize: [3, 3],
    itemStyle: { color: '#ff0000', opacity: 1 },
    silent: true, large: false,
    data: allPoints
  }],
  graphic: [
    { type: 'text', x: 9, y: 5, rotation: Math.PI / 2, silent: true,
      style: { text: yTitle, font: 'bold 24px ' + FONT, fill: BLACK, align: 'right', verticalAlign: 'top' } },
    { type: 'text', x: 772.5, y: 572, silent: true,
      style: { text: xTitle, font: 'bold 23px ' + FONT, fill: BLACK, align: 'right', verticalAlign: 'bottom' } }
  ]
});
</script></body></html>
